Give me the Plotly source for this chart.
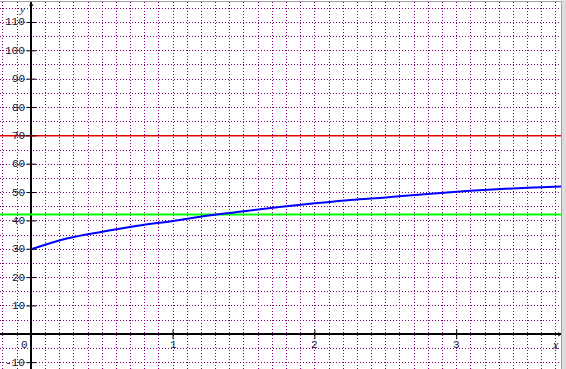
import plotly.graph_objects as go

# Data
curve_x = [0, 0.25, 0.5, 0.75, 1.0, 1.25, 1.5, 1.75, 2.0, 2.25, 2.5, 2.75, 3.0, 3.25, 3.5, 3.75]
curve_y = [30, 33.8, 36.2, 38.3, 40.0, 41.9, 43.4, 44.9, 46.2, 47.4, 48.3, 49.3, 50.3, 51.1, 51.7, 52.2]
red_level = 70
green_level = 42.3
x_ticks = [1, 2, 3]
x_tick_labels = ["1", "2", "3"]
y_ticks = [-10, 10, 20, 30, 40, 50, 60, 70, 80, 90, 100, 110]
y_tick_labels = ["-10", "10", "20", "30", "40", "50", "60", "70", "80", "90", "100", "110"]

X_RANGE = [-0.2207, 3.7356]
Y_RANGE = [-12.24, 117.22]

LABEL_FONT = dict(family="Liberation Mono", size=11, color="#141430")

fig = go.Figure()

# horizontal reference lines
fig.add_trace(go.Scatter(x=X_RANGE, y=[red_level, red_level], mode="lines",
                         line=dict(color="#e00000", width=1.5), hoverinfo="skip"))
fig.add_trace(go.Scatter(x=X_RANGE, y=[green_level, green_level], mode="lines",
                         line=dict(color="#00ff00", width=2), hoverinfo="skip"))
# blue curve
fig.add_trace(go.Scatter(x=curve_x, y=curve_y, mode="lines",
                         line=dict(color="#0000ff", width=2, shape="spline"), hoverinfo="skip"))

# tick marks
fig.add_trace(go.Scatter(x=[0] * len(y_ticks), y=y_ticks, mode="markers",
                         marker=dict(symbol="line-ew", size=7, line=dict(width=1, color="black")),
                         hoverinfo="skip"))
fig.add_trace(go.Scatter(x=x_ticks, y=[0] * len(x_ticks), mode="markers",
                         marker=dict(symbol="line-ns", size=7, line=dict(width=1, color="black")),
                         hoverinfo="skip"))
# arrow nubs
fig.add_trace(go.Scatter(x=[0], y=[Y_RANGE[1] - 1.0], mode="markers",
                         marker=dict(symbol="triangle-up", size=4, color="black"), hoverinfo="skip"))
fig.add_trace(go.Scatter(x=[X_RANGE[1] - 0.012], y=[0], mode="markers",
                         marker=dict(symbol="triangle-right", size=4, color="black"), hoverinfo="skip"))

annotations = []
for v, t in zip(y_ticks, y_tick_labels):
    annotations.append(dict(x=0, y=v, text=t, showarrow=False, xanchor="right", yanchor="middle",
                            xshift=-4, font=LABEL_FONT))
for v, t in zip(x_ticks, x_tick_labels):
    annotations.append(dict(x=v, y=0, text=t, showarrow=False, xanchor="center", yanchor="middle",
                            yshift=-11, font=LABEL_FONT))
annotations.append(dict(x=0, y=0, text="0", showarrow=False, xanchor="right", yanchor="middle",
                        xshift=-1, yshift=-11, font=LABEL_FONT))
annotations.append(dict(x=0, y=0, text="<i>y</i>", showarrow=False, xanchor="right", yanchor="middle",
                        xshift=-4, yshift=325, font=dict(family="Liberation Serif", size=11, color="#141430")))
annotations.append(dict(x=X_RANGE[1], y=0, text="<i>x</i>", showarrow=False, xanchor="right", yanchor="middle",
                        xshift=0, yshift=-11, font=dict(family="Liberation Serif", size=12, color="#141430")))

fig.update_layout(
    width=566, height=369,
    margin=dict(l=0, r=0, t=0, b=0),
    paper_bgcolor="white", plot_bgcolor="white",
    showlegend=False,
    annotations=annotations,
    xaxis=dict(domain=[0, 561 / 566], range=X_RANGE, dtick=0.1, tick0=0,
               showgrid=True, gridcolor="#800080", gridwidth=1, griddash="1px,2px",
               zeroline=True, zerolinecolor="black", zerolinewidth=2,
               showticklabels=False, ticks="", showline=False, fixedrange=True),
    yaxis=dict(domain=[0, 367 / 369], range=Y_RANGE, dtick=5, tick0=0,
               showgrid=True, gridcolor="#800080", gridwidth=1, griddash="1px,2px",
               zeroline=True, zerolinecolor="black", zerolinewidth=2,
               showticklabels=False, ticks="", showline=False, fixedrange=True),
    shapes=[
        dict(type="rect", xref="paper", yref="paper", x0=561 / 566, x1=1, y0=0, y1=1,
             fillcolor="#dcdcdc", line=dict(width=0), layer="above"),
        dict(type="line", xref="paper", yref="paper", x0=561.5 / 566, x1=561.5 / 566, y0=0, y1=367 / 369,
             line=dict(color="#a0a0a0", width=1), layer="above"),
        dict(type="line", xref="paper", yref="paper", x0=0, x1=561.5 / 566, y0=367.5 / 369, y1=367.5 / 369,
             line=dict(color="#a0a0a0", width=1), layer="above"),
    ],
)

fig.write_html("out.html", config={"displayModeBar": False})
